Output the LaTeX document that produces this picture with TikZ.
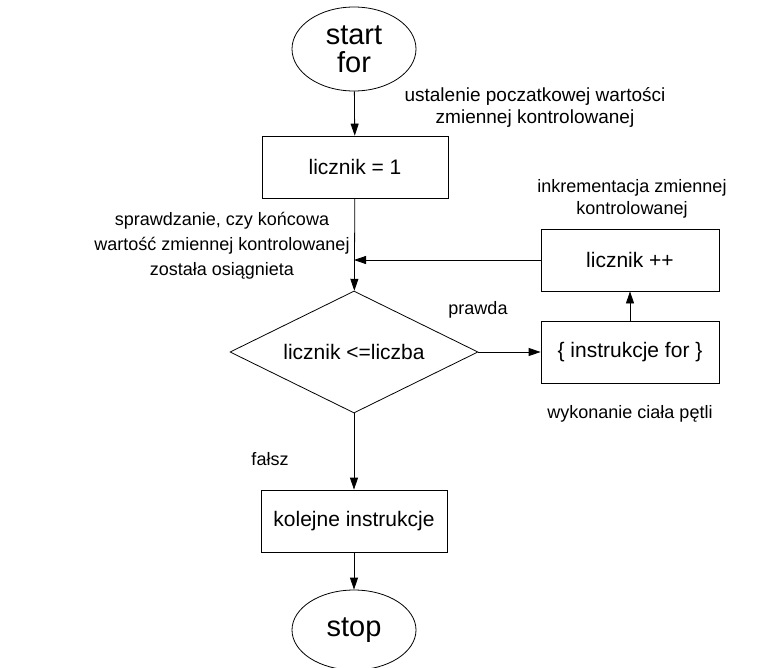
\documentclass[tikz,border=0pt]{standalone}
\usepackage{fontspec}
\setmainfont{Liberation Sans}
\usetikzlibrary{shapes.geometric,arrows.meta}

\begin{document}
\begin{tikzpicture}[x=1pt,y=-1pt,
  line width=0.8pt,
  arr/.style={-{Triangle[length=12pt,width=8pt]}},
  term/.style={draw,ellipse,minimum width=124pt,minimum height=84pt,inner sep=0pt,
    font=\fontsize{29}{31}\selectfont,align=center},
  proc/.style={draw,rectangle,minimum width=186pt,minimum height=62pt,inner sep=0pt,
    font=\fontsize{21}{24}\selectfont},
  sideproc/.style={draw,rectangle,minimum width=178pt,minimum height=62pt,inner sep=0pt,
    font=\fontsize{21}{24}\selectfont},
  cond/.style={draw,diamond,aspect=2.03,minimum width=248pt,minimum height=122pt,inner sep=0pt,
    font=\fontsize{21}{24}\selectfont},
  note/.style={font=\fontsize{18}{22}\selectfont,align=center}
]
\useasboundingbox (0,0) rectangle (778,667);

% main column
\node[term] (start) at (354,49) {start\\[-3pt]for};
\node[proc] (init) at (355,167) {licznik = 1};
\node[cond] (test) at (354,352) {licznik <=liczba};
\node[proc] (next) at (354,521) {kolejne instrukcje};
\node[term,minimum height=80pt] (stop) at (354,630) {stop};

% loop body column
\node[sideproc] (incr) at (630,260) {licznik ++};
\node[sideproc] (body) at (630,352) {\{ instrukcje for \}};

% junction where the loop returns to the main line
\coordinate (join) at (354,260);

% connectors
\draw[arr] (start) -- (init);
\draw[arr] (init) -- (test);
\draw[arr] (incr.west) -- (join);
\draw[arr] (test.east) -- (body.west);
\draw[arr] (body.north) -- (incr.south);
\draw[arr] (test.south) -- (next.north);
\draw[arr] (next.south) -- (stop.north);

% annotations
\node[note,font=\fontsize{19}{22}\selectfont] (n1) at (535,107) {ustalenie poczatkowej wartości\\zmiennej kontrolowanej};
\node[note] (n2) at (632,199) {inkrementacja zmiennej\\kontrolowanej};
\node[note,font=\fontsize{18}{25}\selectfont] (n3) at (222,246) {sprawdzanie, czy końcowa\\wartość zmiennej kontrolowanej\\została osiągnieta};
\node[note] (yes) at (478,310) {prawda};
\node[note] (no) at (270,459) {fałsz};
\node[note] (n4) at (630,414) {wykonanie ciała pętli};
\end{tikzpicture}
\end{document}
